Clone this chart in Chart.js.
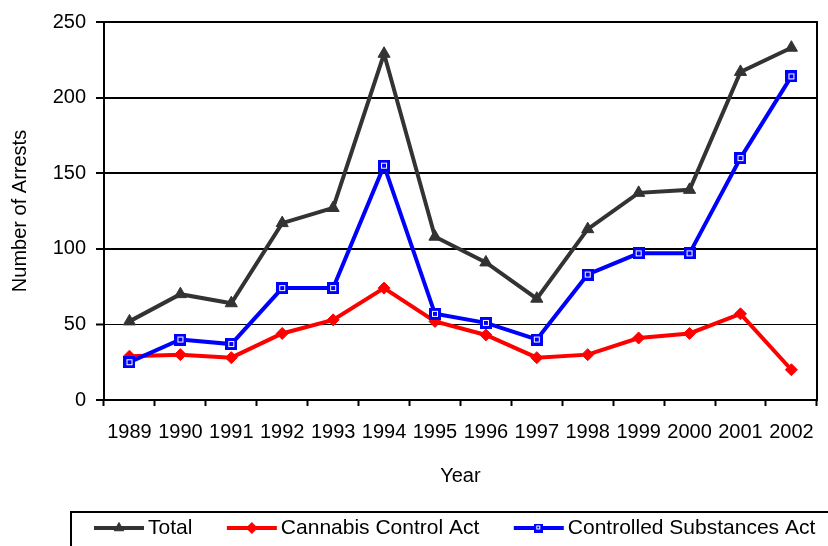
<!DOCTYPE html>
<html><head><meta charset="utf-8">
<script src="https://cdn.jsdelivr.net/npm/chart.js@4.4.0/dist/chart.umd.min.js"></script>
<style>html,body{margin:0;padding:0;background:#fff;overflow:hidden}#wrap{width:828px;height:546px}</style>
</head><body><div id="wrap"><canvas id="c" width="828" height="546"></canvas></div>
<script>
const years = ['1989','1990','1991','1992','1993','1994','1995','1996','1997','1998','1999','2000','2001','2002'];
const totalArrests = [52,70,64,117,127,229,108,91,67,113,137,139,217,233];
const cannabisArrests = [29,30,28,44,53,74,52,43,28,30,41,44,57,20];
const controlledArrests = [25,40,37,74,74,155,57,51,40,83,97,97,160,214];
const seriesNames = ['Total','Cannabis Control Act','Controlled Substances Act'];
const yMin = 0, yMax = 250, yStep = 50;

const FONT = '"Liberation Sans", Arial, sans-serif';
const blueMarker = (() => {
  const c = document.createElement('canvas'); c.width = 12; c.height = 12;
  const g = c.getContext('2d');
  g.fillStyle = '#0000ff'; g.fillRect(0, 0, 12, 12);
  g.strokeStyle = '#ffffff'; g.lineWidth = 1; g.strokeRect(3.5, 3.5, 5, 5);
  return c;
})();
const blueMarkerSmall = (() => {
  const c = document.createElement('canvas'); c.width = 9; c.height = 9;
  const g = c.getContext('2d');
  g.fillStyle = '#0000ff'; g.fillRect(0, 0, 9, 9);
  g.strokeStyle = '#ffffff'; g.lineWidth = 1; g.strokeRect(2.5, 2.5, 3, 3);
  return c;
})();

const boxLegend = {
  id: 'boxLegend',
  afterDraw(chart) {
    const ctx = chart.ctx;
    const top = chart.scales.x.bottom + 12;
    const left = 71;
    ctx.save();
    ctx.strokeStyle = '#000'; ctx.lineWidth = 2;
    ctx.beginPath();
    ctx.moveTo(left, chart.height + 5); ctx.lineTo(left, top); ctx.lineTo(chart.width + 5, top);
    ctx.stroke();
    const cy = top + 16;
    ctx.font = '21px ' + FONT;
    ctx.textBaseline = 'middle';
    ctx.textAlign = 'left';
    let x = 94;
    chart.data.datasets.forEach((ds) => {
      const lineLen = 50;
      ctx.strokeStyle = ds.borderColor; ctx.lineWidth = ds.borderWidth;
      ctx.beginPath(); ctx.moveTo(x, cy); ctx.lineTo(x + lineLen, cy); ctx.stroke();
      const style = typeof ds.pointStyle === 'string' ? ds.pointStyle : blueMarkerSmall;
      ctx.fillStyle = ds.pointBackgroundColor; ctx.strokeStyle = ds.pointBorderColor; ctx.lineWidth = 1;
      Chart.helpers.drawPoint(ctx, {pointStyle: style, radius: 5.5, rotation: 0, borderWidth: 1}, x + lineLen / 2, cy);
      ctx.fillStyle = '#000';
      const tx = x + lineLen + 4;
      ctx.fillText(ds.label, tx, cy);
      x = tx + ctx.measureText(ds.label).width + 34.5;
    });
    ctx.restore();
  }
};

new Chart(document.getElementById('c'), {
  type: 'line',
  data: {
    labels: years,
    datasets: [
      {label: seriesNames[0], data: totalArrests, borderColor: '#333333', backgroundColor: '#333333',
       pointBackgroundColor: '#333333', pointBorderColor: '#333333', borderWidth: 4,
       pointStyle: 'triangle', pointRadius: 7, pointBorderWidth: 1, order: 3, tension: 0},
      {label: seriesNames[1], data: cannabisArrests, borderColor: '#ff0000', backgroundColor: '#ff0000',
       pointBackgroundColor: '#ff0000', pointBorderColor: '#ff0000', borderWidth: 4,
       pointStyle: 'rectRot', pointRadius: 6, pointBorderWidth: 1, order: 2, tension: 0},
      {label: seriesNames[2], data: controlledArrests, borderColor: '#0000ff', backgroundColor: '#0000ff',
       pointBackgroundColor: '#0000ff', pointBorderColor: '#0000ff', borderWidth: 4,
       pointStyle: blueMarker, pointRadius: 6, pointBorderWidth: 1, order: 1, tension: 0}
    ]
  },
  options: {
    responsive: false, animation: false, devicePixelRatio: 1,
    layout: {padding: {left: 0, right: 10, top: 22, bottom: 46}},
    plugins: {legend: {display: false}, tooltip: {enabled: false}},
    font: {family: FONT},
    scales: {
      x: {
        offset: true,
        grid: {offset: true, drawOnChartArea: false, drawTicks: true, tickLength: 6, color: '#000', tickWidth: 2},
        border: {color: '#000', width: 2},
        ticks: {color: '#000', font: {size: 20, family: FONT}, padding: 14, maxRotation: 0, autoSkip: false},
        title: {display: true, text: 'Year', color: '#000', font: {size: 20, family: FONT}, padding: {top: 0, bottom: 12}},
        afterFit(s) { s.height = 100; }
      },
      y: {
        min: yMin, max: yMax,
        ticks: {stepSize: yStep, color: '#000', font: {size: 20, family: FONT}, padding: 10},
        grid: {color: '#000', lineWidth: c => (c.tick && c.tick.value === 50 ? 1 : 2), tickLength: 8, tickWidth: 2, tickColor: '#000'},
        border: {color: '#000', width: 2},
        title: {display: true, text: 'Number of Arrests', color: '#000', font: {size: 20, family: FONT}, padding: {top: 8, bottom: 0}},
        afterFit(s) { s.width = 104; }
      },
      y2: {
        position: 'right', min: yMin, max: yMax,
        ticks: {display: false},
        grid: {drawOnChartArea: false, drawTicks: false},
        border: {color: '#000', width: 2},
        afterFit(s) { s.width = 0; }
      }
    }
  },
  plugins: [boxLegend]
});
</script>
</body></html>
